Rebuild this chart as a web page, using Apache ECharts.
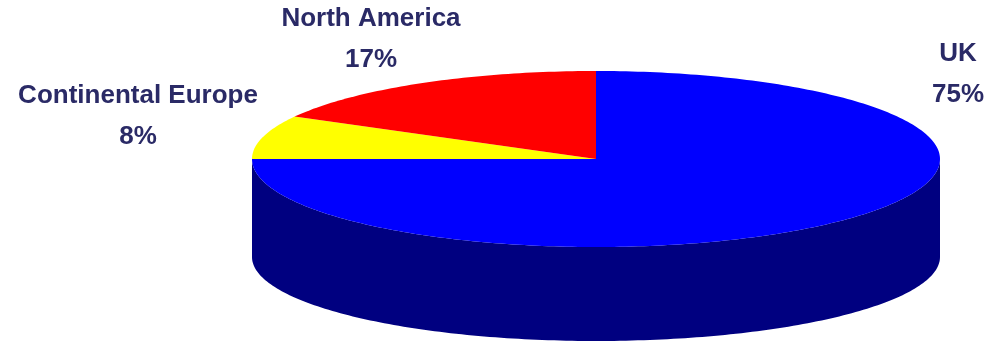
<!DOCTYPE html>
<html>
<head>
<meta charset="utf-8">
<style>
  html, body { margin: 0; padding: 0; background: #ffffff; }
  #chart { width: 1000px; height: 347px; }
</style>
<script src="https://cdn.jsdelivr.net/npm/echarts@6/dist/echarts.min.js"></script>
</head>
<body>
<div id="chart"></div>
<script>
// Regional split of revenue
const regions = ['UK', 'Continental Europe', 'North America'];
const shares = [75, 8, 17];
const topColors = ['#0000FF', '#FFFF00', '#FF0000'];
const sideColors = ['#000080', '#808000', '#800000'];

// Elliptical disc geometry (tilted pie)
const CX = 596, CY = 159;
const RX = 344, RY = 88;
const DEPTH = 98;
const RY_BOTTOM = 84;
const labelAnchors = [[958, 74], [138, 116], [371, 39]];
const TEXT_COLOR = '#2a2a66';

const total = shares.reduce((s, v) => s + v, 0);
const starts = [];
let acc = 0;
shares.forEach(v => { starts.push(acc / total * 360); acc += v; });

function pt(deg, cy, ry) {
  const t = deg * Math.PI / 180;
  return [CX + RX * Math.sin(t), cy - ry * Math.cos(t)];
}

function arcPoints(a, b, cy, ry) {
  const pts = [];
  const n = Math.max(2, Math.ceil(Math.abs(b - a) / 1));
  for (let i = 0; i <= n; i++) pts.push(pt(a + (b - a) * i / n, cy, ry));
  return pts;
}

function renderItem(params, api) {
  const i = params.dataIndex;
  const a = starts[i];
  const b = a + api.value(0) / total * 360;
  const children = [];

  // visible side wall: front half of the disc (90deg..270deg)
  const sa = Math.max(a, 90), sb = Math.min(b, 270);
  if (sb > sa) {
    const top = arcPoints(sa, sb, CY, RY);
    const bottom = arcPoints(sb, sa, CY + DEPTH, RY_BOTTOM);
    children.push({
      type: 'polygon', z2: 1,
      shape: { points: top.concat(bottom) },
      style: { fill: sideColors[i] }
    });
  }

  // top face of the slice
  const face = [[CX, CY]].concat(arcPoints(a, b, CY, RY));
  children.push({
    type: 'polygon', z2: 10,
    shape: { points: face },
    style: { fill: topColors[i] }
  });

  // label: category name and percentage
  const pct = Math.round(api.value(0) / total * 100) + '%';
  children.push({
    type: 'text', z2: 20,
    x: labelAnchors[i][0], y: labelAnchors[i][1],
    style: {
      text: regions[i] + '\n' + pct,
      fill: TEXT_COLOR,
      font: 'bold 26px "Liberation Sans", Arial, sans-serif',
      align: 'center', verticalAlign: 'middle',
      lineHeight: 41
    }
  });

  return { type: 'group', children: children };
}

const chart = echarts.init(document.getElementById('chart'), null, { renderer: 'canvas' });
chart.setOption({
  animation: false,
  series: [{
    type: 'custom',
    coordinateSystem: 'none',
    renderItem: renderItem,
    data: shares.map((v, i) => ({ name: regions[i], value: [v] }))
  }]
});
</script>
</body>
</html>
